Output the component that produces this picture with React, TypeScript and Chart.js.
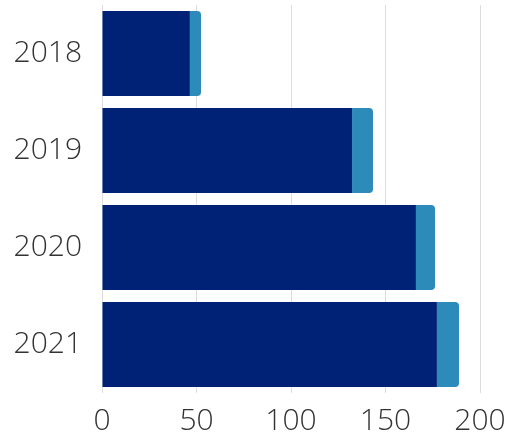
import React, { useEffect, useRef } from "react";
import { Chart, registerables } from "chart.js";

Chart.register(...registerables);

const categories = ["2018", "2019", "2020", "2021"];
const seriesDark = [46.5, 132.3, 166.1, 177.2];
const seriesLight = [5.9, 11.1, 10.1, 11.7];
const xTicks = [0, 50, 100, 150, 200];

export default function App() {
  const ref = useRef<HTMLCanvasElement | null>(null);
  useEffect(() => {
    document.body.style.margin = "0";
    const ctx = ref.current!;
    const chart = new Chart(ctx, {
      type: "bar",
      data: {
        labels: categories,
        datasets: [
          {
            label: "A",
            data: seriesDark,
            backgroundColor: "#002276",
            borderRadius: 0,
            barPercentage: 0.876,
            categoryPercentage: 1,
          },
          {
            label: "B",
            data: seriesLight,
            backgroundColor: "#2D8BBA",
            borderRadius: { topLeft: 0, bottomLeft: 0, topRight: 4, bottomRight: 4 },
            borderSkipped: false,
            barPercentage: 0.876,
            categoryPercentage: 1,
          },
        ],
      },
      options: {
        indexAxis: "y",
        animation: false,
        responsive: false,
        maintainAspectRatio: false,
        layout: { padding: { top: 5, right: 36, left: 0, bottom: 0 } },
        plugins: { legend: { display: false }, tooltip: { enabled: false } },
        scales: {
          x: {
            stacked: true,
            min: 0,
            max: 200,
            afterBuildTicks: (s: any) => {
              s.ticks = xTicks.map((v) => ({ value: v }));
            },
            afterFit: (s: any) => {
              s.height = 40;
              s.paddingLeft = 0;
              s.paddingRight = 0;
            },
            grid: { color: "#dddddd", drawTicks: false, lineWidth: 1 },
            border: { display: false },
            ticks: {
              padding: 10,
              color: "#333333",
              font: { family: "Open Sans", weight: 300, size: 30 },
            },
          },
          y: {
            stacked: true,
            afterFit: (s: any) => {
              s.width = 102;
              s.paddingTop = 0;
              s.paddingBottom = 0;
            },
            grid: { display: false, drawTicks: false },
            border: { display: false },
            ticks: {
              padding: 20,
              color: "#333333",
              font: { family: "Open Sans", weight: 300, size: 30 },
            },
          },
        },
      },
    });
    return () => chart.destroy();
  }, []);
  return (
    <div style={{ width: 516, height: 433 }}>
      <canvas ref={ref} width={516} height={433} style={{ display: "block" }} />
    </div>
  );
}
